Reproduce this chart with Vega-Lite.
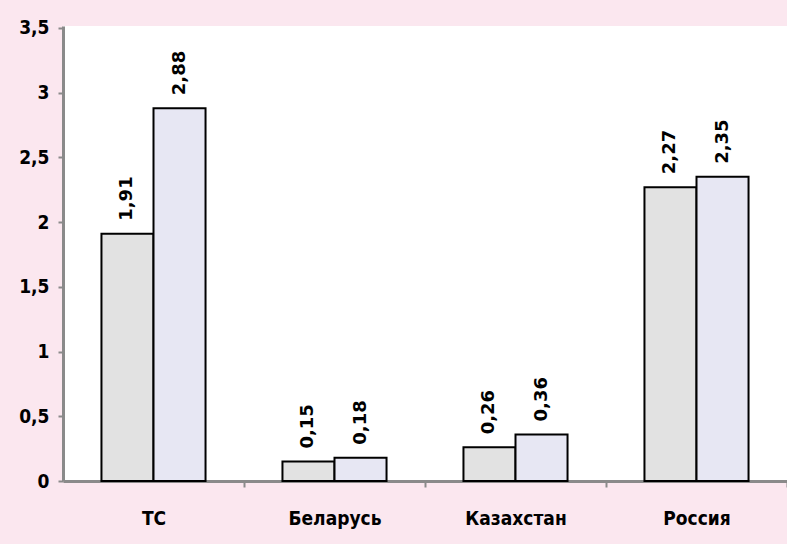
{
  "$schema": "https://vega.github.io/schema/vega-lite/v6.json",
  "width": 724,
  "height": 455,
  "autosize": {"type": "none"},
  "padding": {"left": 63, "top": 26, "right": 0, "bottom": 63},
  "background": "#fbe7ef",
  "config": {
    "view": {"fill": "white", "stroke": null},
    "locale": {"number": {"decimal": ",", "thousands": " ", "grouping": [3], "currency": ["", ""]}}
  },
  "data": {
    "values": [
      {"country": "ТС", "series": "s1", "value": 1.91},
      {"country": "ТС", "series": "s2", "value": 2.88},
      {"country": "Беларусь", "series": "s1", "value": 0.15},
      {"country": "Беларусь", "series": "s2", "value": 0.18},
      {"country": "Казахстан", "series": "s1", "value": 0.26},
      {"country": "Казахстан", "series": "s2", "value": 0.36},
      {"country": "Россия", "series": "s1", "value": 2.27},
      {"country": "Россия", "series": "s2", "value": 2.35}
    ]
  },
  "encoding": {
    "x": {
      "field": "country",
      "type": "nominal",
      "sort": ["ТС", "Беларусь", "Казахстан", "Россия"],
      "scale": {"paddingInner": 0.425, "paddingOuter": 0.2125},
      "axis": {
        "title": null,
        "labelAngle": 0,
        "tickOffset": 90.5,
        "labelOffset": -90.5,
        "domainColor": "#8a8a8a",
        "domainWidth": 3,
        "tickColor": "#8a8a8a",
        "tickWidth": 2,
        "tickSize": 6,
        "labelFont": "DejaVu Sans Condensed, sans-serif",
        "labelFontWeight": "bold",
        "labelFontSize": 19,
        "labelColor": "black",
        "labelPadding": 22
      }
    },
    "xOffset": {"field": "series", "scale": {"paddingInner": 0, "paddingOuter": 0}},
    "y": {
      "field": "value",
      "type": "quantitative",
      "scale": {"domain": [0, 3.515], "nice": false},
      "axis": {
        "title": null,
        "values": [0, 0.5, 1, 1.5, 2, 2.5, 3, 3.5],
        "format": "~g",
        "grid": false,
        "domainColor": "#8a8a8a",
        "domainWidth": 3,
        "tickColor": "#8a8a8a",
        "tickWidth": 2,
        "tickSize": 5,
        "labelFont": "DejaVu Sans Condensed, sans-serif",
        "labelFontWeight": "bold",
        "labelFontSize": 19,
        "labelColor": "black",
        "labelPadding": 9
      }
    }
  },
  "layer": [
    {
      "mark": {"type": "bar", "stroke": "black", "strokeWidth": 2},
      "encoding": {
        "fill": {"field": "series", "type": "nominal", "scale": {"range": ["#e2e2e2", "#e7e7f3"]}, "legend": null}
      }
    },
    {
      "mark": {"type": "text", "angle": 270, "align": "left", "baseline": "middle", "dx": 13, "font": "DejaVu Sans, sans-serif", "fontWeight": "bold", "fontSize": 18, "color": "black"},
      "encoding": {
        "text": {"field": "value", "type": "quantitative", "format": ".2f"}
      }
    }
  ]
}
